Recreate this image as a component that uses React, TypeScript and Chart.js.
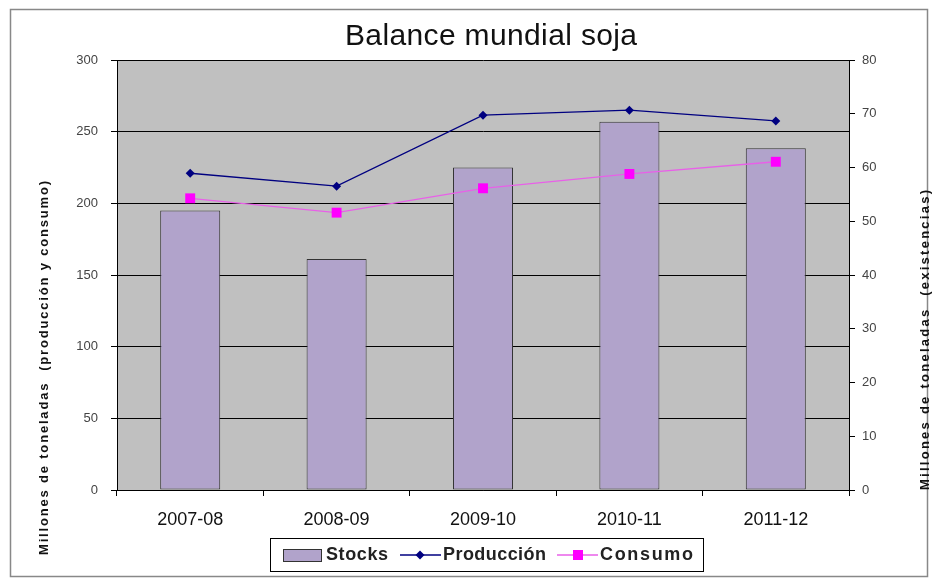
import React, { useEffect, useRef } from 'react';
import { Chart, registerables } from 'chart.js';
Chart.register(...registerables);

const categories = ['2007-08', '2008-09', '2009-10', '2010-11', '2011-12'];
const stocks = [52, 43, 60, 68.5, 63.6];
const produccion = [221, 212, 261.5, 265, 257.5];
const consumo = [203.5, 193.5, 210.5, 220.5, 229];
const titleText = 'Balance mundial soja';
const leftTitle = 'Millones de toneladas  (producción y consumo)';
const rightTitle = 'Millones de toneladas  (existencias)';

const W = 935;
const H = 579;
const FONT = '"Liberation Sans", Arial, sans-serif';
const BAR_FILL = '#B1A3CB';
const BAR_EDGE = '#333333';
const PROD = '#000080';
const CONS = '#FF00FF';

function spacedText(ctx: CanvasRenderingContext2D, text: string, x: number, y: number, target: number) {
  const m = ctx.measureText(text).width;
  const sp = Math.max(0, (target - m) / (text.length - 1));
  (ctx as any).letterSpacing = sp + 'px';
  ctx.fillText(text, x, y);
  (ctx as any).letterSpacing = '0px';
}

const decor = {
  id: 'decor',
  beforeDraw(chart: any) {
    const { ctx, chartArea } = chart;
    ctx.save();
    ctx.fillStyle = '#fff';
    ctx.fillRect(0, 0, W, H);
    ctx.strokeStyle = '#888';
    ctx.lineWidth = 1.5;
    ctx.strokeRect(10.5, 9.5, W - 18, H - 12);
    ctx.fillStyle = '#C0C0C0';
    ctx.fillRect(chartArea.left, chartArea.top, chartArea.right - chartArea.left, chartArea.bottom - chartArea.top);
    ctx.restore();
  },
  afterDraw(chart: any) {
    const { ctx } = chart;
    ctx.save();
    // title
    ctx.fillStyle = '#111';
    ctx.font = `30px ${FONT}`;
    ctx.textAlign = 'left';
    ctx.textBaseline = 'middle';
    spacedText(ctx, titleText, 345, 37, 292);
    // axis titles
    ctx.font = `bold 13px ${FONT}`;
    ctx.textAlign = 'left';
    ctx.save();
    ctx.translate(44, 555);
    ctx.rotate(-Math.PI / 2);
    spacedText(ctx, leftTitle, 0, 0, 374);
    ctx.restore();
    ctx.save();
    ctx.translate(925, 490);
    ctx.rotate(-Math.PI / 2);
    spacedText(ctx, rightTitle, 0, 0, 300);
    ctx.restore();
    // legend
    const ds = chart.data.datasets;
    ctx.fillStyle = '#fff';
    ctx.fillRect(270, 538, 433, 33);
    ctx.strokeStyle = '#000';
    ctx.lineWidth = 1;
    ctx.strokeRect(270.5, 538.5, 433, 33);
    ctx.font = `bold 18px ${FONT}`;
    ctx.textAlign = 'left';
    ctx.textBaseline = 'middle';
    ctx.fillStyle = '#222';
    const cy = 555;
    // Stocks swatch
    ctx.fillStyle = ds[0].backgroundColor;
    ctx.fillRect(283, 549, 38, 12);
    ctx.strokeStyle = '#333';
    ctx.strokeRect(283.5, 549.5, 38, 12);
    ctx.fillStyle = '#222';
    spacedText(ctx, ds[0].label, 326, cy, 62);
    // Produccion
    ctx.strokeStyle = ds[1].borderColor;
    ctx.lineWidth = 1.3;
    ctx.beginPath();
    ctx.moveTo(400, cy);
    ctx.lineTo(441, cy);
    ctx.stroke();
    ctx.fillStyle = ds[1].borderColor;
    ctx.beginPath();
    ctx.moveTo(420, cy - 4.5);
    ctx.lineTo(424.5, cy);
    ctx.lineTo(420, cy + 4.5);
    ctx.lineTo(415.5, cy);
    ctx.closePath();
    ctx.fill();
    ctx.fillStyle = '#222';
    spacedText(ctx, ds[1].label, 443, cy, 103);
    // Consumo
    ctx.strokeStyle = ds[2].borderColor;
    ctx.beginPath();
    ctx.moveTo(557, cy);
    ctx.lineTo(598, cy);
    ctx.stroke();
    ctx.fillStyle = ds[2].pointBackgroundColor;
    ctx.fillRect(573, cy - 5, 10, 10);
    ctx.fillStyle = '#222';
    spacedText(ctx, ds[2].label, 600, cy, 93);
    ctx.restore();
  },
};

export default function App() {
  const ref = useRef<HTMLCanvasElement>(null);
  useEffect(() => {
    document.body.style.margin = '0';
    const canvas = ref.current!;
    const chart = new Chart(canvas, {
      type: 'bar',
      data: {
        labels: categories,
        datasets: [
          {
            type: 'bar',
            label: 'Stocks',
            data: stocks,
            yAxisID: 'y1',
            backgroundColor: BAR_FILL,
            borderColor: BAR_EDGE,
            borderWidth: 1,
            borderSkipped: false,
            barPercentage: 0.41,
            categoryPercentage: 1,
            order: 3,
          } as any,
          {
            type: 'line',
            label: 'Producción',
            data: produccion,
            yAxisID: 'y',
            borderColor: PROD,
            backgroundColor: PROD,
            pointBackgroundColor: PROD,
            pointBorderColor: PROD,
            borderWidth: 1.3,
            pointStyle: 'rectRot',
            pointRadius: 4.5,
            pointBorderWidth: 0,
            tension: 0,
            order: 1,
          } as any,
          {
            type: 'line',
            label: 'Consumo',
            data: consumo,
            yAxisID: 'y',
            borderColor: '#E860E8',
            backgroundColor: CONS,
            pointBackgroundColor: CONS,
            pointBorderColor: CONS,
            borderWidth: 1.3,
            pointStyle: 'rect',
            pointRadius: 7,
            pointBorderWidth: 0,
            tension: 0,
            order: 2,
          } as any,
        ],
      },
      options: {
        responsive: false,
        animation: false,
        devicePixelRatio: 1,
        layout: { padding: { top: 60, left: 0, right: 0, bottom: 0 } },
        plugins: {
          legend: { display: false },
          title: { display: false },
          tooltip: { enabled: false },
        },
        scales: {
          x: {
            type: 'category',
            offset: true,
            grid: {
              display: true,
              drawOnChartArea: false,
              drawTicks: true,
              tickLength: 6,
              color: '#000',
              offset: true,
            },
            border: { display: true, color: '#000' },
            ticks: {
              font: { family: FONT, size: 18 },
              color: '#111',
              padding: 13,
              maxRotation: 0,
            },
            afterFit: (s: any) => {
              s.height = 89;
            },
          },
          y: {
            position: 'left',
            min: 0,
            max: 300,
            ticks: {
              stepSize: 50,
              font: { family: FONT, size: 13 },
              color: '#444',
              padding: 13,
            },
            grid: { color: '#000', lineWidth: 1, tickLength: 6, tickColor: '#000' },
            border: { display: true, color: '#000' },
            afterFit: (s: any) => {
              s.width = 117;
            },
          },
          y1: {
            position: 'right',
            min: 0,
            max: 80,
            ticks: {
              stepSize: 10,
              font: { family: FONT, size: 13 },
              color: '#444',
              padding: 7,
            },
            grid: { drawOnChartArea: false, tickLength: 6, tickColor: '#000', color: '#000' },
            border: { display: true, color: '#000' },
            afterFit: (s: any) => {
              s.width = 86;
            },
          },
        },
      } as any,
      plugins: [decor],
    });
    return () => chart.destroy();
  }, []);
  return (
    <div style={{ width: W, height: H, position: 'relative', background: '#fff' }}>
      <canvas ref={ref} width={W} height={H} style={{ width: W, height: H, display: 'block' }} />
    </div>
  );
}
